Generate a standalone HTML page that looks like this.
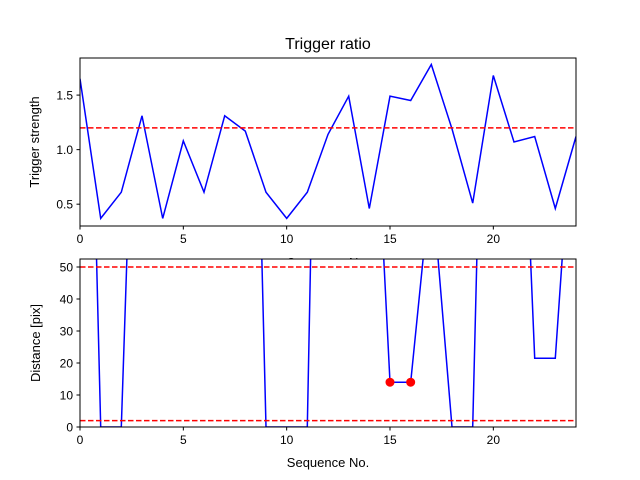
<!DOCTYPE html>
<html><head><meta charset="utf-8"><style>body{margin:0;background:#fff}svg{display:block;font-family:"Liberation Sans","DejaVu Sans",sans-serif}</style></head>
<body>
<svg id="c" width="640" height="480" xmlns="http://www.w3.org/2000/svg">
<rect width="640" height="480" fill="#fff"/>
<text x="328" y="49" text-anchor="middle" font-size="16">Trigger ratio</text>
<text x="328" y="267" text-anchor="middle" font-size="13">Sequence No.</text>
<text x="328" y="467" text-anchor="middle" font-size="13">Sequence No.</text>
<text transform="translate(39,142) rotate(-90)" text-anchor="middle" font-size="13">Trigger strength</text>
<text transform="translate(40,343) rotate(-90)" text-anchor="middle" font-size="13">Distance [pix]</text>
</svg>
<script>
const seq = [0,1,2,3,4,5,6,7,8,9,10,11,12,13,14,15,16,17,18,19,20,21,22,23,24];
const strength = [1.65,0.37,0.61,1.31,0.37,1.08,0.61,1.31,1.17,0.61,0.37,0.61,1.14,1.49,0.46,1.49,1.45,1.78,1.19,0.51,1.68,1.07,1.12,0.46,1.12];
const strengthThreshold = [1.2];
const distance = [262,0,0,195,300,300,300,300,262,0,0,0,330,300,142,14,14,78,0,0,262,176,21.5,21.5,115];
const distanceThresholds = [50,2];
const markedIdx = [15,16];
const xTicks = [0,5,10,15,20];
const topYTicks = [0.5,1.0,1.5];
const topYLabels = ["0.5","1.0","1.5"];
const botYTicks = [0,10,20,30,40,50];

const svg = document.getElementById('c');
const NS = 'http://www.w3.org/2000/svg';
const X0=80,X1=576;
const xs = v => X0 + (v-0)/(24-0)*(X1-X0);
function mk(tag, attrs, parent){const e=document.createElementNS(NS,tag);for(const k in attrs)e.setAttribute(k,attrs[k]);(parent||svg).appendChild(e);return e;}

function panel(name, top, bot, ymin, ymax, vals, yt, ylab, thr, marks){
  const ys = v => bot - (v-ymin)/(ymax-ymin)*(bot-top);
  const g = mk('g',{});
  
  
  mk('rect',{x:X0,y:top,width:X1-X0,height:bot-top,fill:'#fff'},g);
  const cid = 'clip-'+name;
  const cp = mk('clipPath',{id:cid},g); mk('rect',{x:X0,y:top,width:X1-X0,height:bot-top},cp);
  const pts = vals.map((v,i)=>xs(seq[i]).toFixed(1)+','+ys(v).toFixed(1)).join(' ');
  const line = mk('polyline',{points:pts,fill:'none',stroke:'#0000ff','stroke-width':1.5,'clip-path':'url(#'+cid+')'},g);
  
  
  thr.forEach(t=>{
    const l = mk('line',{x1:X0,x2:X1,y1:ys(t),y2:ys(t),stroke:'#ff0000','stroke-width':1.5,'stroke-dasharray':'5.5,2.5'},g);
    
    
  });
  marks.forEach(i=>{
    const c = mk('circle',{cx:xs(seq[i]),cy:ys(vals[i]),r:4.5,fill:'#ff0000'},g);
    
    
  });
  mk('rect',{x:X0,y:top,width:X1-X0,height:bot-top,fill:'none',stroke:'#000','stroke-width':1},g);
  xTicks.forEach(t=>{
    mk('line',{x1:xs(t),x2:xs(t),y1:bot,y2:bot+3.5,stroke:'#000'},g);
    const tx = mk('text',{x:xs(t),y:bot+17,'text-anchor':'middle','font-size':12},g);
    tx.textContent = t;
    
    
  });
  yt.forEach((t,i)=>{
    mk('line',{x1:X0-3.5,x2:X0,y1:ys(t),y2:ys(t),stroke:'#000'},g);
    const tx = mk('text',{x:X0-7,y:ys(t)+4.5,'text-anchor':'end','font-size':12},g);
    tx.textContent = ylab[i];
    
    
  });
}
panel('strength',58,226,0.30,1.84,strength,topYTicks,topYLabels,strengthThreshold,[]);
panel('distance',259,427,0,52.5,distance,botYTicks,botYTicks.map(String),distanceThresholds,markedIdx);
</script>
</body></html>
